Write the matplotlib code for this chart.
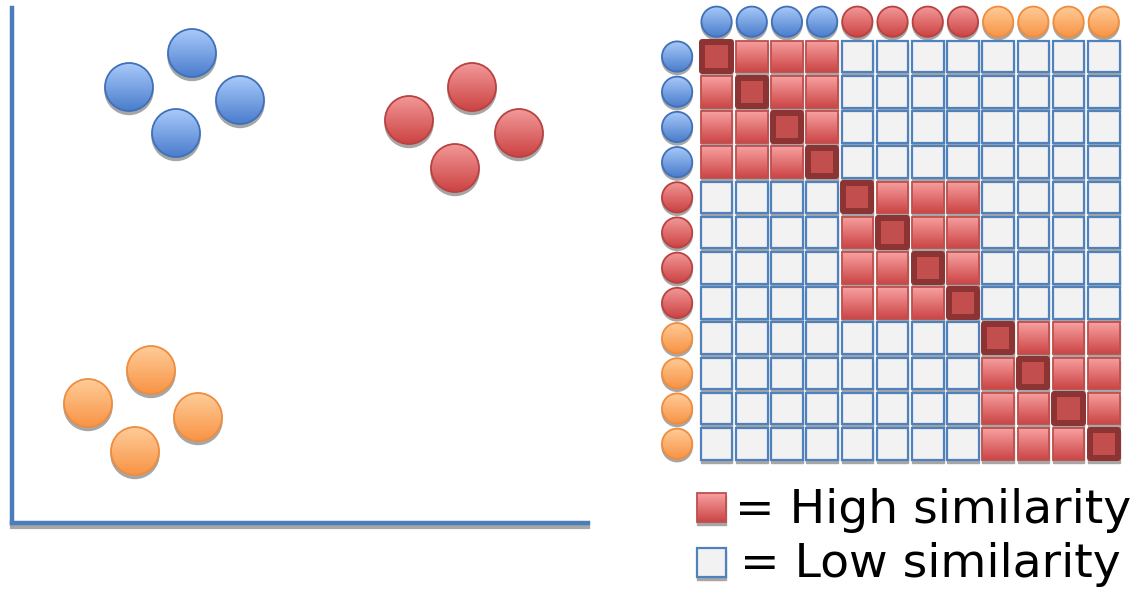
import numpy as np
import matplotlib
matplotlib.use("Agg")
import matplotlib.pyplot as plt
from matplotlib.patches import Circle, Rectangle

# scatter points, one list per cluster (x, y)
blue_x = [3.6, 2.34, 4.56, 3.28]
blue_y = [9.4, 8.72, 8.46, 7.8]
red_x = [9.2, 7.94, 10.14, 8.86]
red_y = [8.72, 8.06, 7.8, 7.1]
orange_x = [2.78, 1.52, 3.72, 2.46]
orange_y = [3.06, 2.4, 2.12, 1.44]

# cluster of each of the 12 points, in matrix order
groups = [0, 0, 0, 0, 1, 1, 1, 1, 2, 2, 2, 2]
legend_labels = ["= High similarity", "= Low similarity"]

# (top colour, bottom colour, edge colour) for each cluster
ball_colors = [
    ((0.66, 0.79, 0.98), (0.29, 0.49, 0.80), (0.25, 0.44, 0.72)),
    ((0.95, 0.60, 0.60), (0.80, 0.26, 0.26), (0.72, 0.26, 0.26)),
    ((1.00, 0.80, 0.60), (0.97, 0.58, 0.27), (0.94, 0.55, 0.24)),
]
hi_top = (0.97, 0.63, 0.63)
hi_bot = (0.80, 0.27, 0.27)
hi_edge = (0.75, 0.31, 0.30)
diag_fill = (0.76, 0.31, 0.30)
diag_edge = (0.55, 0.20, 0.20)
lo_fill = (0.95, 0.95, 0.95)
lo_edge = (0.31, 0.51, 0.74)
shadow = (0.65, 0.65, 0.65)
axis_blue = (0.29, 0.49, 0.73)


def gradient(ax, patch, x0, x1, ytop, ybot, top, bot):
    n = 64
    t = np.linspace(0, 1, n)[:, None]
    img = np.array(top)[None, :] * (1 - t) + np.array(bot)[None, :] * t
    img = img[:, None, :]
    im = ax.imshow(img, extent=(x0, x1, ybot, ytop), origin="upper",
                   aspect="auto", interpolation="bilinear", zorder=patch.get_zorder() - 0.1)
    im.set_clip_path(patch)


def ball(ax, x, y, r, cols, dy):
    top, bot, edge = cols
    ax.add_patch(Circle((x, y + dy), r, color=shadow, zorder=1))
    c = Circle((x, y), r, facecolor="none", edgecolor=edge, lw=1.3, zorder=3)
    ax.add_patch(c)
    if dy < 0:
        gradient(ax, c, x - r, x + r, y + r, y - r, top, bot)
    else:
        gradient(ax, c, x - r, x + r, y - r, y + r, top, bot)


def square(ax, x, y, s, kind):
    ax.add_patch(Rectangle((x, y + 0.09), s, s, color=shadow, zorder=1))
    if kind == 0:
        ax.add_patch(Rectangle((x, y), s, s, facecolor=lo_fill, edgecolor=lo_edge,
                               lw=1.6, zorder=3))
    elif kind == 1:
        r = Rectangle((x, y), s, s, facecolor="none", edgecolor=hi_edge, lw=1.3, zorder=3)
        ax.add_patch(r)
        gradient(ax, r, x, x + s, y, y + s, hi_top, hi_bot)
    else:
        ax.add_patch(Rectangle((x + 0.05, y + 0.05), s - 0.1, s - 0.1, facecolor=diag_fill,
                               edgecolor=diag_edge, lw=4.3, joinstyle="round", zorder=4))


fig = plt.figure(figsize=(11.38, 5.93), dpi=100)
W, H = 1138.0, 593.0

# left panel: the data points
ax1 = fig.add_axes([12 / W, (H - 523) / H, 576 / W, 515 / H])
ax1.axis("off")
ax1.plot([0, 11.52], [-0.07, -0.07], color=shadow, lw=3, clip_on=False, zorder=1)
ax1.plot([0, 0], [0, 10.3], color=axis_blue, lw=3.2, clip_on=False, zorder=2)
ax1.plot([0, 11.52], [0, 0], color=axis_blue, lw=3.2, clip_on=False, zorder=2)
for xs, ys, cols in [(blue_x, blue_y, ball_colors[0]),
                     (red_x, red_y, ball_colors[1]),
                     (orange_x, orange_y, ball_colors[2])]:
    for x, y in zip(xs, ys):
        ball(ax1, x, y, 0.48, cols, -0.07)
ax1.set_xlim(0, 11.52)
ax1.set_ylim(0, 10.3)

# right panel: similarity matrix
ax2 = fig.add_axes([650 / W, 0, 488 / W, 1])
ax2.axis("off")
n = len(groups)
for i in range(n):
    ball(ax2, i + 0.47, -0.52, 0.43, ball_colors[groups[i]], 0.08)
    ball(ax2, -0.65, i + 0.47, 0.43, ball_colors[groups[i]], 0.08)
    for j in range(n):
        if i == j:
            kind = 2
        elif groups[i] == groups[j]:
            kind = 1
        else:
            kind = 0
        square(ax2, j + 0.02, i + 0.02, 0.9, kind)

# legend
square(ax2, -0.08, 12.86, 0.82, 1)
square(ax2, -0.08, 14.44, 0.82, 0)
ax2.text(0.99, 13.38, legend_labels[0], fontsize=34, va="center", ha="left")
ax2.text(1.13, 14.9, legend_labels[1], fontsize=34, va="center", ha="left")

ax2.set_xlim(-50 / 35.2, 438 / 35.2)
ax2.set_ylim(553 / 35.2, -40 / 35.2)

fig.savefig("out.png", dpi=100)
